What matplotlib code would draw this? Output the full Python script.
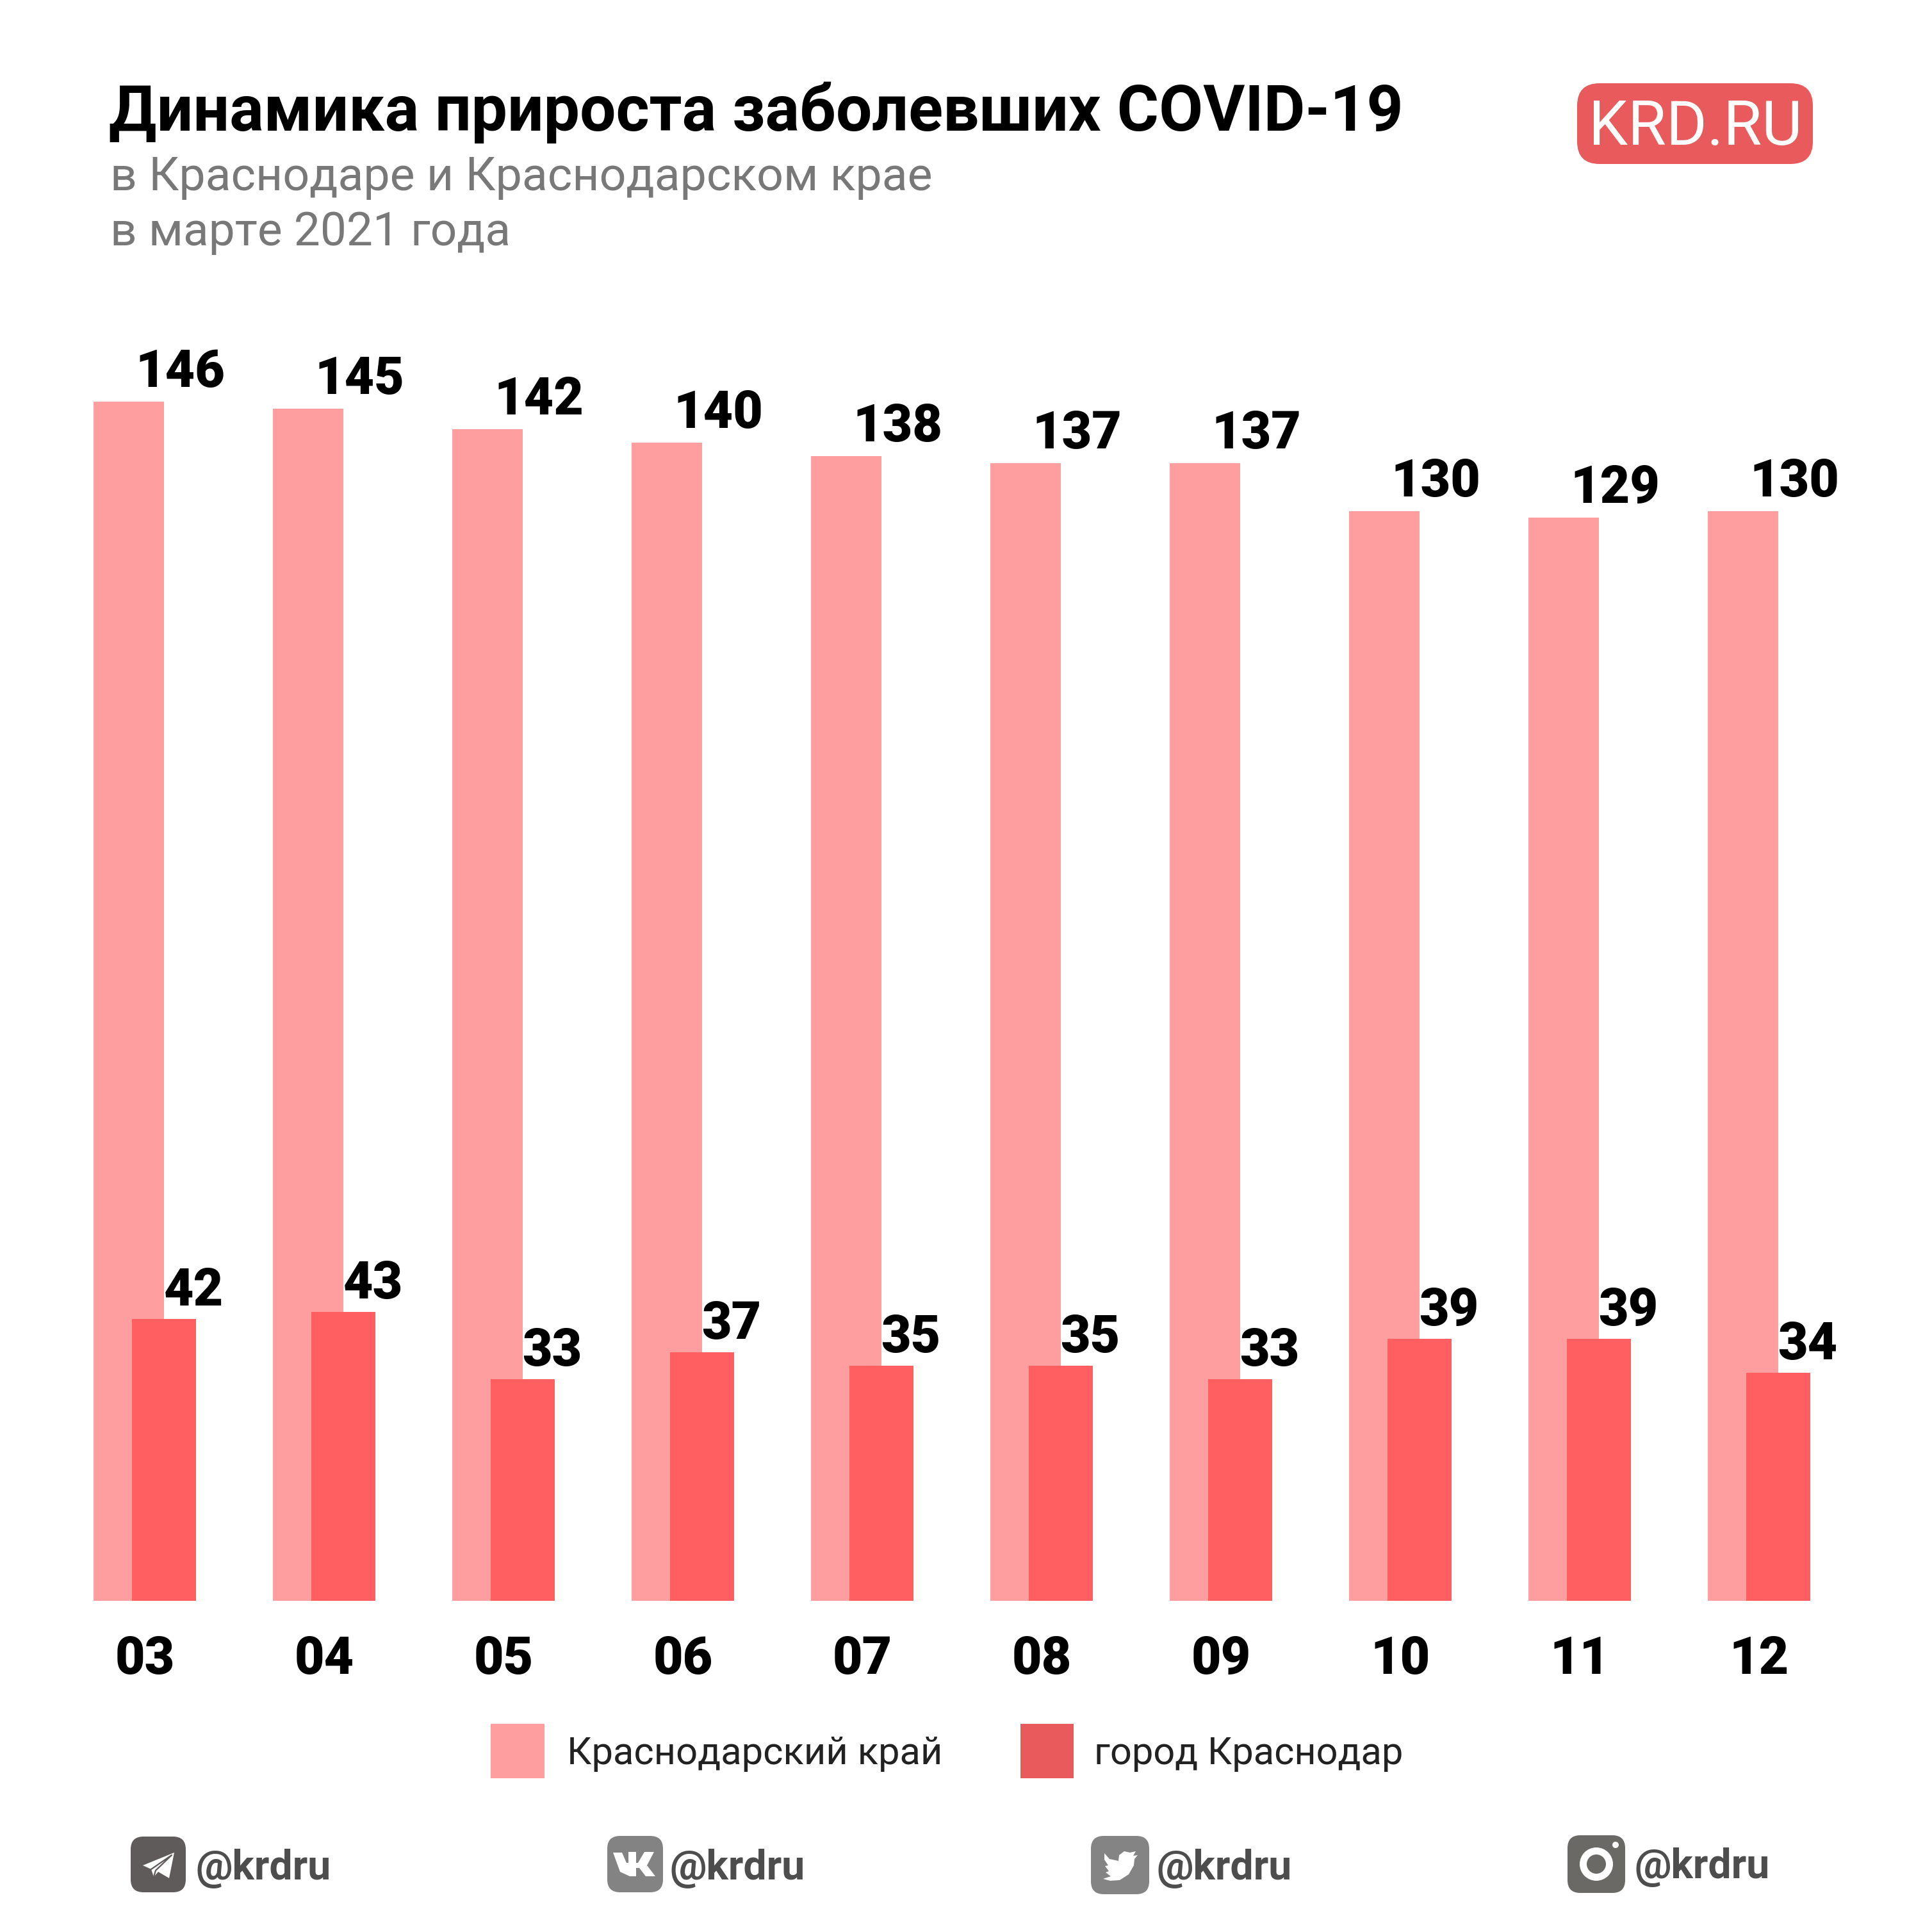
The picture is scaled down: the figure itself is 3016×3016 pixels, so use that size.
import matplotlib
matplotlib.use('Agg')
import matplotlib.pyplot as plt
from matplotlib.patches import FancyBboxPatch, Polygon, Circle, Rectangle
import numpy as np

plt.rcParams['font.family'] = ['Roboto', 'DejaVu Sans']

# Data
days = ['03', '04', '05', '06', '07', '08', '09', '10', '11', '12']
krai = [146, 145, 142, 140, 138, 137, 137, 130, 129, 130]
city = [42, 43, 33, 37, 35, 35, 33, 39, 39, 34]
series_names = ['Краснодарский край', 'город Краснодар']
title = 'Динамика прироста заболевших COVID-19'
subtitle = ['в Краснодаре и Краснодарском крае', 'в марте 2021 года']
handle = '@krdru'

S = 3016
LIGHT = '#FF9E9F'
DARK = '#FF5F60'
RED = '#E85A5B'

fig = plt.figure(figsize=(15.08, 15.08), dpi=200, facecolor='white')

# Plot axes: the baseline sits at y=2499 px, one category step is 280 px
base_y, top_y = 2499, 500
pos = [0, (S - base_y) / S, 1, (base_y - top_y) / S]
h = base_y - top_y
xlim = (-226 / 280, (S - 226) / 280)

# the two series were drawn on different scales in the original
krai_floor = -29.75
ax = fig.add_axes(pos)
ax.set_xlim(*xlim)
ax.set_ylim(krai_floor, krai_floor + h / 10.65)
ax2 = fig.add_axes(pos)
ax2.set_xlim(*xlim)
ax2.set_ylim(0, h / 10.48)
ax2.patch.set_visible(False)

x = np.arange(len(days))
ax.bar(x - 0.089, np.array(krai) - krai_floor, bottom=krai_floor, width=0.393, color=LIGHT, linewidth=0)
ax2.bar(x + 0.107, city, width=0.357, color=DARK, linewidth=0)

for i, v in enumerate(krai):
    ax.annotate(str(v), (i, v), xytext=(55, 23), textcoords='offset pixels', ha='center', va='baseline',
                fontsize=29, fontweight=900, color='black')
for i, v in enumerate(city):
    ax2.annotate(str(v), (i, v), xytext=(76, 21), textcoords='offset pixels', ha='center', va='baseline',
                 fontsize=29, fontweight=900, color='black')

ax.set_xticks(x)
ax.set_xticklabels(days, fontsize=29, fontweight=900, color='black')
ax.tick_params(axis='x', length=0, pad=19)
ax.set_yticks([])
ax2.set_xticks([])
ax2.set_yticks([])
for a in (ax, ax2):
    for s in a.spines.values():
        s.set_visible(False)

# Overlay in pixel coordinates for the header, legend and footer
ov = fig.add_axes([0, 0, 1, 1], zorder=5)
ov.set_xlim(0, S)
ov.set_ylim(S, 0)
ov.axis('off')

ov.text(170, 204, title, fontsize=35.95, fontweight='bold', color='black', va='baseline')
ov.text(172, 297, subtitle[0], fontsize=26.45, color='#787878', va='baseline')
ov.text(172, 383, subtitle[1], fontsize=26.3, color='#787878', va='baseline')

# Logo
ov.add_patch(FancyBboxPatch((2497, 165), 298, 56, boxstyle='round,pad=35,rounding_size=35', linewidth=0, facecolor=RED))
ov.text(2647, 226, 'KRD.RU', fontsize=35, color='white', ha='center', va='baseline')

# Legend
ov.add_patch(Rectangle((766, 2691), 84, 85, color=LIGHT, linewidth=0))
ov.add_patch(Rectangle((1593, 2691), 83, 85, color=RED, linewidth=0))
ov.text(885, 2754, series_names[0], fontsize=21.5, color='#222222', va='baseline')
ov.text(1708, 2754, series_names[1], fontsize=21.45, color='#222222', va='baseline')


def badge(x0, y0, x1, y1, color):
    r = 20
    ov.add_patch(FancyBboxPatch((x0 + r, y0 + r), x1 - x0 - 2 * r, y1 - y0 - 2 * r,
                                boxstyle='round,pad=%d,rounding_size=%d' % (r, r), linewidth=0, facecolor=color))


# Footer icons
badge(204, 2867, 290, 2954, '#5F5B5B')
ov.add_patch(Polygon([(272, 2892), (223, 2912), (236, 2918), (240, 2930), (247, 2922), (264, 2932)],
                     closed=True, facecolor='white', linewidth=0))
ov.plot([236, 268, 243, 240], [2918, 2896, 2920, 2930], color='#5F5B5B', linewidth=0.8)

badge(948, 2866, 1035, 2954, '#838383')
ov.add_patch(Polygon([(957, 2892), (971, 2892), (978, 2908), (981, 2908), (981, 2891), (993, 2891),
                      (993, 2908), (996, 2908), (1006, 2891), (1021, 2891), (1010, 2912), (1023, 2929),
                      (1008, 2929), (998, 2916), (993, 2916), (993, 2929), (983, 2929), (968, 2922)],
                     closed=True, facecolor='white', linewidth=0))

badge(1703, 2866, 1794, 2957, '#848484')
ov.add_patch(Polygon([(1724, 2893), (1732, 2902), (1746, 2905), (1747, 2896), (1755, 2890), (1764, 2892),
                      (1773, 2890), (1769, 2897), (1776, 2896), (1771, 2902), (1770, 2912), (1762, 2926),
                      (1748, 2935), (1733, 2936), (1722, 2933), (1734, 2929), (1726, 2923), (1731, 2921),
                      (1725, 2913), (1730, 2912), (1724, 2903)],
                     closed=True, facecolor='white', linewidth=0))

badge(2447, 2865, 2537, 2955, '#6B6966')
ov.add_patch(Circle((2492, 2910), 26, facecolor='white', linewidth=0))
ov.add_patch(Circle((2492, 2910), 15, facecolor='#6B6966', linewidth=0))
ov.add_patch(Circle((2522, 2880), 5, facecolor='white', linewidth=0))

for tx, ty in [(305, 2934), (1046, 2934), (1805, 2934), (2551, 2932)]:
    ov.text(tx, ty, handle, fontsize=23.2, fontweight='bold', color='#4D4D4D', va='baseline')

fig.savefig('out.png', dpi=200, facecolor='white')
